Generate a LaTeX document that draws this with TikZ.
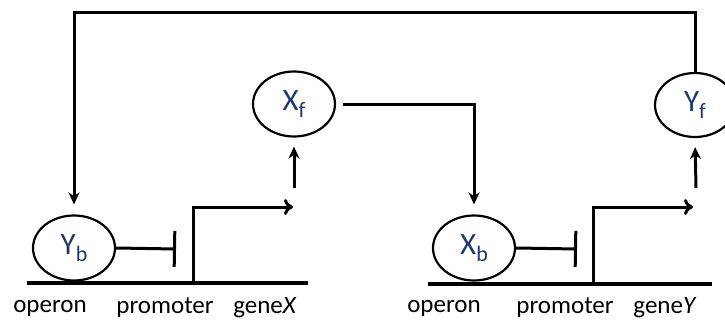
\documentclass[tikz,border=0pt]{standalone}
\usepackage{fontspec}
\setmainfont{Carlito}
\usepackage{tikz}
\usetikzlibrary{arrows.meta,shapes.geometric}
\definecolor{navy}{RGB}{31,56,110}
\newcommand{\prot}[2]{{\fontsize{31}{33}\selectfont #1\raisebox{-7pt}{\fontsize{22}{24}\selectfont #2}}}

\begin{document}
\begin{tikzpicture}[x=1pt,y=-1pt,line width=3pt,>={Stealth[length=12pt,width=11pt]}]
  \tikzstyle{protein}=[ellipse,draw,line width=2.2pt,inner sep=0pt,
    minimum width=82pt,minimum height=65pt,text=navy]
  \tikzstyle{dna}=[line width=4pt]
  \tikzstyle{label}=[font=\fontsize{25}{27}\selectfont,inner sep=0pt]
  \tikzstyle{repress}=[-{Bar[width=36pt,length=0pt]}]
  \tikzstyle{express}=[-{To[length=9pt,width=16pt]}]
  \useasboundingbox (0,0) rectangle (725,321);

  % operon of gene X
  \draw[dna] (27,283) -- (308,283);
  \node[protein] (Yb) at (74,248) {\prot{Y}{b}};
  \coordinate (PX) at (193,283);
  \draw[repress] (Yb.east) -- (176,249);
  \draw[express] (PX) |- (293,207);
  \node[protein] (Xf) at (294,104) {\prot{X}{f}};
  \draw[->,shorten >=9pt] (294,188) -- (Xf.south);
  \node[label] (opX) at (50,308) {operon};
  \node[label] (prX) at (165,308) {promoter};
  \node[label] (gnX) at (265,308) {gene\textit{X}};

  % operon of gene Y
  \draw[dna] (428,284) -- (712,284);
  \node[protein] (Xb) at (474,248) {\prot{X}{b}};
  \coordinate (PY) at (593,284);
  \draw[repress] (Xb.east) -- (577,249);
  \draw[express] (PY) |- (693,207);
  \node[protein,minimum height=64pt,minimum width=80pt] (Yf) at (695,105) {\prot{Y}{f}};
  \draw[->,shorten >=9pt] (696,188) -- (Yf.south);
  \node[label] (opY) at (444,308) {operon};
  \node[label] (prY) at (565,308) {promoter};
  \node[label] (gnY) at (665,308) {gene\textit{Y}};

  % feedback loops
  \draw[->,shorten <=7pt,shorten >=10pt] (Xf.east) -| (Xb.north);
  \draw[->,shorten >=10pt] (Yf.north) |- (Yb.north |- 0,13) -- (Yb.north);
\end{tikzpicture}
\end{document}
